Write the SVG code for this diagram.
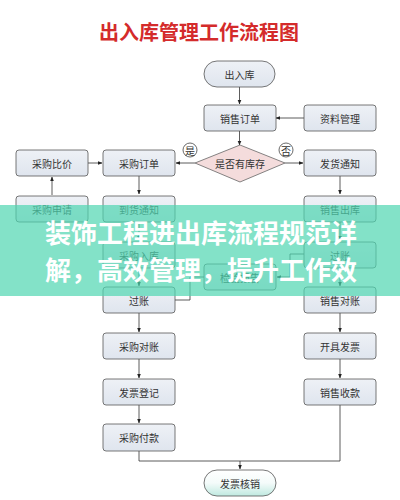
<svg xmlns="http://www.w3.org/2000/svg" width="400" height="500" viewBox="0 0 400 500">
<defs>
<linearGradient id="boxg" x1="0" y1="0" x2="0" y2="1"><stop offset="0" stop-color="#eef1f6"/><stop offset="1" stop-color="#dfe5ee"/></linearGradient>
<linearGradient id="endg" x1="0" y1="0" x2="0" y2="1"><stop offset="0" stop-color="#ffffff"/><stop offset="0.5" stop-color="#f4fbfa"/><stop offset="1" stop-color="#bfe9e0"/></linearGradient>
<marker id="arr" viewBox="0 0 10 10" refX="9" refY="5" markerWidth="6" markerHeight="6" orient="auto"><path d="M0,1 L10,5 L0,9 z" fill="#222"/></marker>
</defs>
<style>
.box{fill:url(#boxg);stroke:#555;stroke-width:0.8}
.t{font-family:"Noto Sans CJK SC","Noto Sans",sans-serif;font-size:10px;fill:#333;text-anchor:middle;dominant-baseline:central}
.c{fill:none;stroke:#333;stroke-width:0.8}
.ca{fill:none;stroke:#333;stroke-width:0.8;marker-end:url(#arr)}
</style>
<rect width="400" height="500" fill="#ffffff"/>
<text x="199" y="40" font-family="Noto Sans CJK SC,sans-serif" font-size="20" font-weight="bold" fill="#d42b2b" text-anchor="middle">出入库管理工作流程图</text>

<g id="connectors">
<path class="ca" d="M239.5,87 V104"/>
<path class="ca" d="M304,118 H276"/>
<path class="ca" d="M239.5,131 V145"/>
<path class="ca" d="M195,163 H176"/>
<path class="ca" d="M88,163 H102"/>
<path class="ca" d="M285,163 H303"/>
<path class="ca" d="M52,195 V177"/>
<path class="ca" d="M139,176 V194"/>
<path class="ca" d="M139,222 V240"/>
<path class="ca" d="M139,268 V286"/>
<path class="ca" d="M340,176 V194"/>
<path class="ca" d="M340,222 V240"/>
<path class="ca" d="M340,268 V286"/>
<path class="c" d="M175,300 H190 V277 H204"/>
<path class="ca" d="M304,254 H290 V277 H277"/>
<path class="ca" d="M139,313 V332"/>
<path class="ca" d="M139,359 V378"/>
<path class="ca" d="M139,405 V423"/>
<path class="ca" d="M340,313 V332"/>
<path class="ca" d="M340,359 V378"/>
<path class="c" d="M139,451 V461 H240"/>
<path class="c" d="M340,405 V461 H240" stroke="#888"/>
<path class="ca" d="M240,461 V469"/>
</g>

<g id="n-start"><rect class="box" x="204" y="61" width="71" height="26" rx="13"/><text class="t" x="239.5" y="74">出入库</text></g>
<g id="n-xsdd"><rect class="box" x="204" y="105" width="72" height="26" rx="3"/><text class="t" x="240" y="118">销售订单</text></g>
<g id="n-zlgl"><rect class="box" x="304" y="105" width="72" height="26" rx="3"/><text class="t" x="340" y="118">资料管理</text></g>
<g id="n-kc"><path d="M240,145 L285,163 L240,182 L195,163 Z" fill="#f4dcdc" stroke="#666" stroke-width="0.8"/><text class="t" x="240" y="163">是否有库存</text></g>
<g id="n-yes"><circle cx="190" cy="150" r="7" fill="#fff" stroke="#444" stroke-width="0.8"/><text class="t" x="190" y="150" font-size="9">是</text></g>
<g id="n-no"><circle cx="286" cy="150" r="7" fill="#fff" stroke="#444" stroke-width="0.8"/><text class="t" x="286" y="150" font-size="9">否</text></g>
<g id="n-cgdd"><rect class="box" x="103" y="150" width="72" height="26" rx="3"/><text class="t" x="139" y="163">采购订单</text></g>
<g id="n-cgbj"><rect class="box" x="16" y="150" width="72" height="26" rx="3"/><text class="t" x="52" y="163">采购比价</text></g>
<g id="n-fhtz"><rect class="box" x="304" y="150" width="72" height="26" rx="3"/><text class="t" x="340" y="163">发货通知</text></g>
<g id="n-cgsq"><rect class="box" x="16" y="196" width="72" height="26" rx="3"/><text class="t" x="52" y="209">采购申请</text></g>
<g id="n-dhtz"><rect class="box" x="103" y="196" width="72" height="26" rx="3"/><text class="t" x="139" y="209">到货通知</text></g>
<g id="n-xsck"><rect class="box" x="304" y="196" width="72" height="26" rx="3"/><text class="t" x="340" y="209">销售出库</text></g>
<g id="n-cgrk"><rect class="box" x="103" y="242" width="72" height="26" rx="3"/><text class="t" x="139" y="255">采购入库</text></g>
<g id="n-gz2"><rect class="box" x="304" y="242" width="72" height="26" rx="3"/><text class="t" x="340" y="255">过账</text></g>
<g id="n-jybg"><rect class="box" x="204" y="264" width="72" height="26" rx="3"/><text class="t" x="240" y="277">检验报告</text></g>
<g id="n-gz1"><rect class="box" x="103" y="287" width="72" height="26" rx="3"/><text class="t" x="139" y="300">过账</text></g>
<g id="n-xsdz"><rect class="box" x="304" y="287" width="72" height="26" rx="3"/><text class="t" x="340" y="300">销售对账</text></g>
<g id="n-cgdz"><rect class="box" x="103" y="333" width="72" height="26" rx="3"/><text class="t" x="139" y="346">采购对账</text></g>
<g id="n-kjfp"><rect class="box" x="304" y="333" width="72" height="26" rx="3"/><text class="t" x="340" y="346">开具发票</text></g>
<g id="n-fpdj"><rect class="box" x="103" y="379" width="72" height="26" rx="3"/><text class="t" x="139" y="392">发票登记</text></g>
<g id="n-xssk"><rect class="box" x="304" y="379" width="72" height="26" rx="3"/><text class="t" x="340" y="392">销售收款</text></g>
<g id="n-cgfk"><rect class="box" x="103" y="424" width="72" height="27" rx="3"/><text class="t" x="139" y="437.5">采购付款</text></g>
<g id="n-end"><rect x="204" y="470" width="72" height="26" rx="13" fill="url(#endg)" stroke="#555" stroke-width="0.8"/><text class="t" x="240" y="483">发票核销</text></g>

<g id="banner">
<rect x="0" y="205" width="400" height="91" fill="#4fd6b0" opacity="0.7"/>
<text x="45" y="243" font-family="Noto Sans CJK SC,sans-serif" font-size="26" font-weight="bold" fill="#ffffff">装饰工程进出库流程规范详</text>
<text x="45" y="280" font-family="Noto Sans CJK SC,sans-serif" font-size="26" font-weight="bold" fill="#ffffff">解，高效管理，提升工作效</text>
</g>
</svg>
